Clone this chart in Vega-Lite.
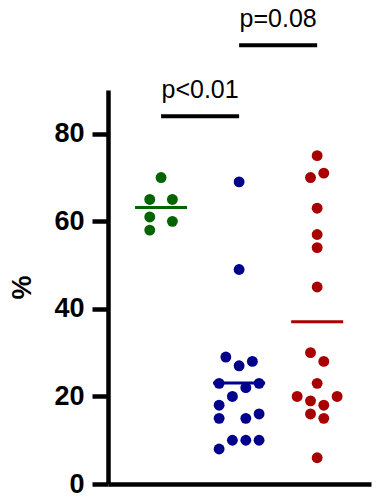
{
  "$schema": "https://vega.github.io/schema/vega-lite/v6.json",
  "autosize": "none",
  "width": 263,
  "height": 394,
  "padding": {"left": 108, "top": 90, "right": 15, "bottom": 13},
  "background": "white",
  "config": {"view": {"stroke": null}, "font": "Liberation Sans"},
  "datasets": {
    "pts": [
      {"group": "G1", "g": 1, "pos": 1.0, "value": 70},
      {"group": "G1", "g": 1, "pos": 0.855, "value": 65},
      {"group": "G1", "g": 1, "pos": 1.145, "value": 65},
      {"group": "G1", "g": 1, "pos": 0.855, "value": 61},
      {"group": "G1", "g": 1, "pos": 1.145, "value": 60},
      {"group": "G1", "g": 1, "pos": 0.855, "value": 58},
      {"group": "G2", "g": 2, "pos": 2.0, "value": 69},
      {"group": "G2", "g": 2, "pos": 2.0, "value": 49},
      {"group": "G2", "g": 2, "pos": 2.0, "value": 27},
      {"group": "G2", "g": 2, "pos": 1.83, "value": 29},
      {"group": "G2", "g": 2, "pos": 2.17, "value": 28},
      {"group": "G2", "g": 2, "pos": 1.744, "value": 23},
      {"group": "G2", "g": 2, "pos": 1.744, "value": 18},
      {"group": "G2", "g": 2, "pos": 1.744, "value": 15},
      {"group": "G2", "g": 2, "pos": 1.744, "value": 8},
      {"group": "G2", "g": 2, "pos": 2.256, "value": 23},
      {"group": "G2", "g": 2, "pos": 2.256, "value": 16},
      {"group": "G2", "g": 2, "pos": 2.256, "value": 10},
      {"group": "G2", "g": 2, "pos": 2.086, "value": 22},
      {"group": "G2", "g": 2, "pos": 2.086, "value": 15},
      {"group": "G2", "g": 2, "pos": 2.086, "value": 10},
      {"group": "G2", "g": 2, "pos": 1.914, "value": 20},
      {"group": "G2", "g": 2, "pos": 1.914, "value": 10},
      {"group": "G3", "g": 3, "pos": 3.0, "value": 75},
      {"group": "G3", "g": 3, "pos": 3.0, "value": 63},
      {"group": "G3", "g": 3, "pos": 3.0, "value": 57},
      {"group": "G3", "g": 3, "pos": 3.0, "value": 54},
      {"group": "G3", "g": 3, "pos": 3.0, "value": 45},
      {"group": "G3", "g": 3, "pos": 3.0, "value": 23},
      {"group": "G3", "g": 3, "pos": 3.0, "value": 6},
      {"group": "G3", "g": 3, "pos": 2.915, "value": 70},
      {"group": "G3", "g": 3, "pos": 2.915, "value": 30},
      {"group": "G3", "g": 3, "pos": 2.915, "value": 19},
      {"group": "G3", "g": 3, "pos": 2.915, "value": 16},
      {"group": "G3", "g": 3, "pos": 3.085, "value": 71},
      {"group": "G3", "g": 3, "pos": 3.085, "value": 28},
      {"group": "G3", "g": 3, "pos": 3.085, "value": 18},
      {"group": "G3", "g": 3, "pos": 3.085, "value": 15},
      {"group": "G3", "g": 3, "pos": 2.744, "value": 20},
      {"group": "G3", "g": 3, "pos": 3.256, "value": 20}
    ],
    "sig": [
      {"from": 1, "to": 2, "mid": 1.5, "y": 84, "label": "p<0.01"},
      {"from": 2, "to": 3, "mid": 2.5, "y": 100.2, "label": "p=0.08"}
    ]
  },
  "layer": [
    {
      "data": {"name": "pts"},
      "mark": {"type": "circle", "size": 118, "opacity": 1},
      "encoding": {
        "x": {
          "field": "pos", "type": "quantitative",
          "scale": {"domain": [0.32, 3.69], "nice": false, "zero": false},
          "axis": {"title": null, "labels": false, "ticks": false, "grid": false, "domainWidth": 4.5, "domainColor": "black"}
        },
        "y": {
          "field": "value", "type": "quantitative",
          "scale": {"domain": [0, 90], "nice": false},
          "axis": {
            "title": "%", "values": [0, 20, 40, 60, 80], "grid": false,
            "domainWidth": 4.5, "domainColor": "black",
            "tickWidth": 4.5, "tickColor": "black", "tickSize": 16,
            "labelPadding": 8, "labelFontSize": 27, "labelFontWeight": "bold", "labelColor": "black",
            "titleFontSize": 27, "titleFontWeight": "bold", "titleColor": "black", "titlePadding": 17
          }
        },
        "color": {
          "field": "group", "type": "nominal",
          "scale": {"domain": ["G1", "G2", "G3"], "range": ["#006400", "#00008b", "#a80000"]},
          "legend": null
        }
      }
    },
    {
      "data": {"name": "pts"},
      "mark": {"type": "tick", "orient": "horizontal", "thickness": 3, "size": 52},
      "encoding": {
        "x": {"field": "g", "type": "quantitative"},
        "y": {"aggregate": "mean", "field": "value", "type": "quantitative"},
        "color": {"field": "group", "type": "nominal", "legend": null}
      }
    },
    {
      "data": {"name": "sig"},
      "mark": {"type": "rule", "strokeWidth": 4, "color": "black"},
      "encoding": {
        "x": {"field": "from", "type": "quantitative"},
        "x2": {"field": "to"},
        "y": {"field": "y", "type": "quantitative"}
      }
    },
    {
      "data": {"name": "sig"},
      "mark": {"type": "text", "fontSize": 25, "baseline": "alphabetic", "dy": -18, "color": "black", "font": "Liberation Sans"},
      "encoding": {
        "x": {"field": "mid", "type": "quantitative"},
        "y": {"field": "y", "type": "quantitative"},
        "text": {"field": "label"}
      }
    }
  ]
}
